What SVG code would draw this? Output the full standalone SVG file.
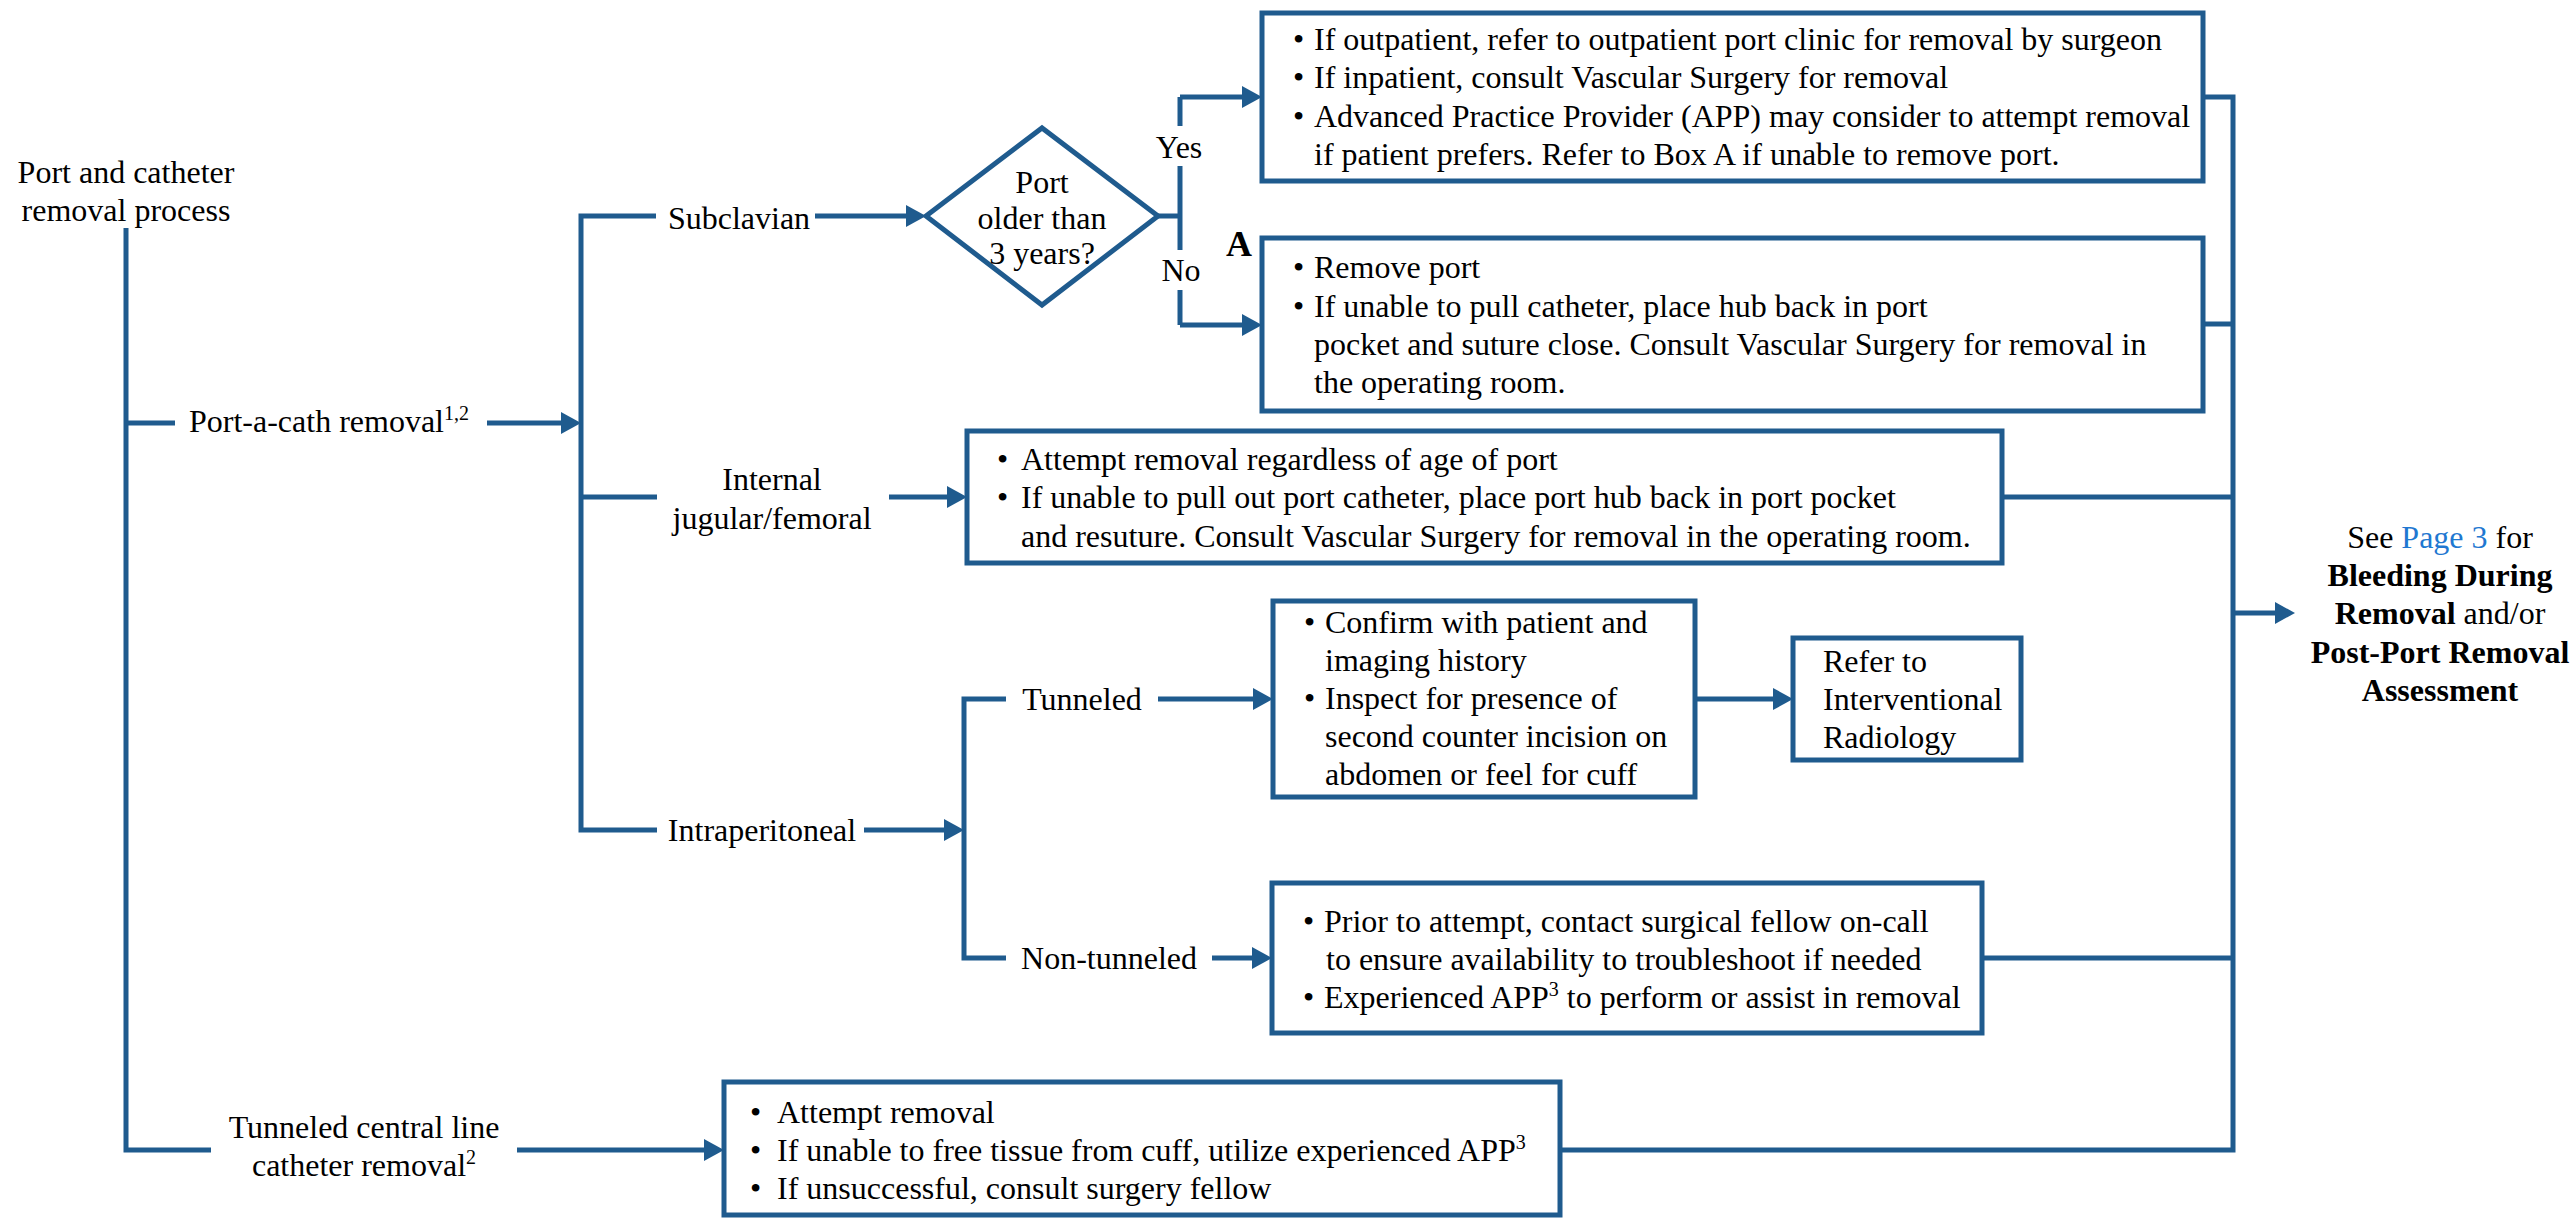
<svg xmlns="http://www.w3.org/2000/svg" width="2572" height="1218" viewBox="0 0 2572 1218">
<style>
text{font-family:"Liberation Serif","Times New Roman",serif;font-size:32px;fill:#000}
.c{text-anchor:middle}
.b{font-weight:bold}
.sup{font-size:20px}
.link{fill:#1f78d1}
.box{fill:#fff;stroke:#1f5b8e;stroke-width:5}
.ln{fill:none;stroke:#1f5b8e;stroke-width:5}
.ar{fill:none;stroke:#1f5b8e;stroke-width:5;marker-end:url(#ah)}
</style>
<defs>
<marker id="ah" viewBox="0 0 20 22" markerWidth="20" markerHeight="22" refX="10" refY="11" orient="auto" markerUnits="userSpaceOnUse">
<path d="M0,0 L20,11 L0,22 z" fill="#1f5b8e"/>
</marker>
</defs>
<rect width="2572" height="1218" fill="#fff"/>
<g id="connectors">
<path class="ln" d="M126,228 V1150 H211"/>
<path class="ln" d="M126,423 H175"/>
<path class="ar" d="M487,423 H571"/>
<path class="ln" d="M656,216 H581 V830 H657"/>
<path class="ln" d="M581,497 H657"/>
<path class="ar" d="M815,216 H916"/>
<path class="ar" d="M889,497 H957"/>
<path class="ar" d="M864,830 H954"/>
<path class="ln" d="M1006,699 H964 V958 H1006"/>
<path class="ar" d="M1158,699 H1263"/>
<path class="ar" d="M1695,699 H1783"/>
<path class="ar" d="M1212,958 H1262"/>
<path class="ar" d="M517,1150 H714"/>
<path class="ln" d="M1158,216 H1180"/>
<path class="ln" d="M1180,126 V97"/>
<path class="ar" d="M1180,97 H1252"/>
<path class="ln" d="M1180,166 V250"/>
<path class="ln" d="M1180,290 V325"/>
<path class="ar" d="M1180,325 H1252"/>
<path class="ln" d="M2203,97 H2233 V1150 H1560"/>
<path class="ln" d="M2203,324 H2233"/>
<path class="ln" d="M2002,497 H2233"/>
<path class="ln" d="M1982,958 H2233"/>
<path class="ar" d="M2233,613 H2285"/>
</g>
<g id="start">
<text class="c" x="126" y="183">Port and catheter</text>
<text class="c" x="126" y="221">removal process</text>
</g>
<g id="portacath">
<text x="189" y="432">Port-a-cath removal<tspan class="sup" dy="-12">1,2</tspan></text>
</g>
<g id="subclavian">
<text class="c" x="739" y="229">Subclavian</text>
</g>
<g id="decision">
<polygon class="box" points="926,216 1042,128 1158,216 1042,305"/>
<text class="c" x="1042" y="193">Port</text>
<text class="c" x="1042" y="229">older than</text>
<text class="c" x="1042" y="264">3 years?</text>
<text class="c" x="1179" y="158">Yes</text>
<text class="c" x="1181" y="281">No</text>
</g>
<g id="box-yes">
<rect class="box" x="1262" y="13" width="941" height="168"/>
<text x="1293" y="50">•</text><text x="1314" y="50">If outpatient, refer to outpatient port clinic for removal by surgeon</text>
<text x="1293" y="88">•</text><text x="1314" y="88">If inpatient, consult Vascular Surgery for removal</text>
<text x="1293" y="127">•</text><text x="1314" y="127">Advanced Practice Provider (APP) may consider to attempt removal</text>
<text x="1314" y="165">if patient prefers. Refer to Box A if unable to remove port.</text>
</g>
<g id="box-a">
<text class="b" x="1239" y="256" style="font-size:36px" text-anchor="middle">A</text>
<rect class="box" x="1262" y="238" width="941" height="173"/>
<text x="1293" y="278">•</text><text x="1314" y="278">Remove port</text>
<text x="1293" y="317">•</text><text x="1314" y="317">If unable to pull catheter, place hub back in port</text>
<text x="1314" y="355">pocket and suture close. Consult Vascular Surgery for removal in</text>
<text x="1314" y="393">the operating room.</text>
</g>
<g id="ij">
<text class="c" x="772" y="490">Internal</text>
<text class="c" x="772" y="529">jugular/femoral</text>
</g>
<g id="box-ij">
<rect class="box" x="967" y="431" width="1035" height="132"/>
<text x="997" y="470">•</text><text x="1021" y="470">Attempt removal regardless of age of port</text>
<text x="997" y="508">•</text><text x="1021" y="508">If unable to pull out port catheter, place port hub back in port pocket</text>
<text x="1021" y="547">and resuture. Consult Vascular Surgery for removal in the operating room.</text>
</g>
<g id="intraperitoneal">
<text class="c" x="762" y="841">Intraperitoneal</text>
</g>
<g id="tunneled">
<text class="c" x="1082" y="710">Tunneled</text>
</g>
<g id="box-tunneled">
<rect class="box" x="1273" y="601" width="422" height="196"/>
<text x="1304" y="633">•</text><text x="1325" y="633">Confirm with patient and</text>
<text x="1325" y="671">imaging history</text>
<text x="1304" y="709">•</text><text x="1325" y="709">Inspect for presence of</text>
<text x="1325" y="747">second counter incision on</text>
<text x="1325" y="785">abdomen or feel for cuff</text>
</g>
<g id="box-ir">
<rect class="box" x="1793" y="638" width="228" height="122"/>
<text x="1823" y="672">Refer to</text>
<text x="1823" y="710">Interventional</text>
<text x="1823" y="748">Radiology</text>
</g>
<g id="nontunneled">
<text class="c" x="1109" y="969">Non-tunneled</text>
</g>
<g id="box-nt">
<rect class="box" x="1272" y="883" width="710" height="150"/>
<text x="1303" y="932">•</text><text x="1324" y="932">Prior to attempt, contact surgical fellow on-call</text>
<text x="1326" y="970">to ensure availability to troubleshoot if needed</text>
<text x="1303" y="1008">•</text><text x="1324" y="1008">Experienced APP<tspan class="sup" dy="-12">3</tspan><tspan dy="12"> to perform or assist in removal</tspan></text>
</g>
<g id="tcl">
<text class="c" x="364" y="1138">Tunneled central line</text>
<text class="c" x="364" y="1176">catheter removal<tspan class="sup" dy="-12">2</tspan></text>
</g>
<g id="box-tcl">
<rect class="box" x="724" y="1082" width="836" height="133"/>
<text x="750" y="1123">•</text><text x="777" y="1123">Attempt removal</text>
<text x="750" y="1161">•</text><text x="777" y="1161">If unable to free tissue from cuff, utilize experienced APP<tspan class="sup" dy="-12">3</tspan></text>
<text x="750" y="1199">•</text><text x="777" y="1199">If unsuccessful, consult surgery fellow</text>
</g>
<g id="see-page">
<text class="c" x="2440" y="548">See <tspan class="link">Page 3</tspan> for</text>
<text class="c b" x="2440" y="586">Bleeding During</text>
<text class="c" x="2440" y="624"><tspan class="b">Removal</tspan> and/or</text>
<text class="c b" x="2440" y="663">Post-Port Removal</text>
<text class="c b" x="2440" y="701">Assessment</text>
</g>
</svg>
